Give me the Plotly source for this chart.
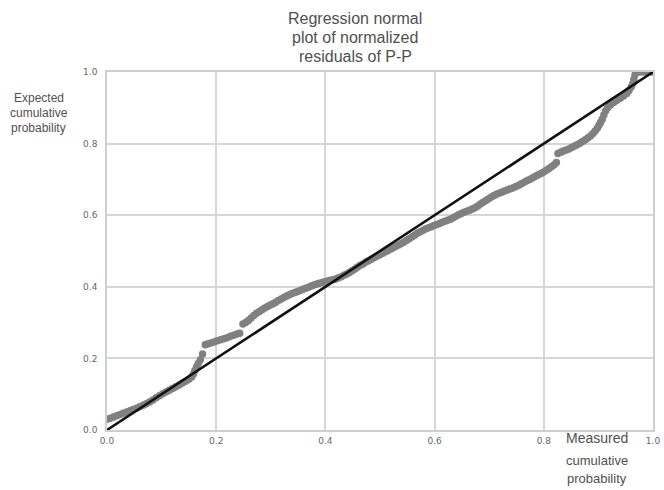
import plotly.graph_objects as go

measured = [
    0.000, 0.006, 0.012, 0.018, 0.024, 0.030, 0.036, 0.042, 0.048, 0.054,
    0.060, 0.066, 0.072, 0.078, 0.084, 0.090, 0.096, 0.102, 0.108, 0.114,
    0.120, 0.126, 0.132, 0.138, 0.144, 0.150, 0.155,
    0.158, 0.161, 0.164, 0.167, 0.171, 0.175, 0.180,
    0.184, 0.190, 0.196, 0.202, 0.208, 0.214, 0.220, 0.226, 0.232, 0.238, 0.243,
    0.249, 0.254, 0.259, 0.264, 0.269, 0.274, 0.279, 0.284, 0.289, 0.294,
    0.299, 0.304, 0.309, 0.314, 0.319, 0.324, 0.329, 0.334, 0.339, 0.344,
    0.349, 0.354, 0.359, 0.364, 0.369, 0.374, 0.379, 0.384, 0.389, 0.394,
    0.399, 0.404, 0.409, 0.414, 0.419, 0.424, 0.429,
    0.434, 0.439, 0.444, 0.449, 0.454, 0.459, 0.464, 0.469, 0.474, 0.479,
    0.484, 0.489, 0.494, 0.499, 0.504, 0.509, 0.514, 0.519, 0.524, 0.529,
    0.534, 0.539, 0.544, 0.549, 0.554, 0.559, 0.564, 0.569, 0.574, 0.579,
    0.584, 0.589, 0.594, 0.599, 0.604, 0.609, 0.614, 0.619, 0.624, 0.629,
    0.634, 0.639, 0.644, 0.649, 0.654, 0.659, 0.664, 0.669, 0.674, 0.679,
    0.684, 0.689, 0.694, 0.699, 0.704, 0.709, 0.714, 0.719, 0.724, 0.729,
    0.734, 0.739, 0.744, 0.749, 0.754, 0.759, 0.764, 0.769, 0.774, 0.779,
    0.784, 0.789, 0.794, 0.799, 0.804, 0.809, 0.814, 0.819, 0.823,
    0.826, 0.831, 0.836, 0.841, 0.846, 0.851, 0.856, 0.861, 0.866, 0.871,
    0.876, 0.881, 0.886, 0.890, 0.894, 0.898, 0.901, 0.904, 0.907, 0.910,
    0.913, 0.917, 0.922, 0.928, 0.934, 0.940, 0.946, 0.952, 0.956, 0.960,
    0.963, 0.965, 0.967, 0.970, 0.976, 0.982, 0.988, 0.994, 1.000,
]
expected = [
    0.030, 0.033, 0.036, 0.040, 0.043, 0.047, 0.050, 0.054, 0.057, 0.061,
    0.065, 0.069, 0.073, 0.078, 0.084, 0.090, 0.096, 0.101, 0.106, 0.111,
    0.116, 0.121, 0.126, 0.131, 0.136, 0.142, 0.148,
    0.156, 0.166, 0.176, 0.186, 0.196, 0.212, 0.238,
    0.240, 0.243, 0.246, 0.249, 0.252, 0.255, 0.258, 0.262, 0.265, 0.268, 0.270,
    0.296, 0.300, 0.306, 0.313, 0.320, 0.326, 0.331, 0.336, 0.341, 0.345,
    0.349, 0.353, 0.357, 0.362, 0.366, 0.370, 0.374, 0.378, 0.381, 0.384,
    0.387, 0.390, 0.393, 0.396, 0.399, 0.402, 0.405, 0.408, 0.410, 0.412,
    0.414, 0.416, 0.418, 0.420, 0.422, 0.425, 0.428,
    0.432, 0.436, 0.440, 0.445, 0.450, 0.455, 0.460, 0.464, 0.469, 0.473,
    0.477, 0.481, 0.485, 0.489, 0.493, 0.497, 0.501, 0.505, 0.509, 0.513,
    0.517, 0.521, 0.525, 0.530, 0.535, 0.540, 0.545, 0.550, 0.554, 0.558,
    0.562, 0.565, 0.568, 0.571, 0.574, 0.577, 0.580, 0.583, 0.586, 0.589,
    0.593, 0.597, 0.601, 0.605, 0.608, 0.611, 0.614, 0.617, 0.621, 0.626,
    0.631, 0.636, 0.641, 0.646, 0.651, 0.655, 0.659, 0.662, 0.665, 0.668,
    0.671, 0.674, 0.677, 0.680, 0.684, 0.688, 0.692, 0.696, 0.700, 0.704,
    0.708, 0.712, 0.716, 0.720, 0.725, 0.730, 0.735, 0.741, 0.747,
    0.772, 0.776, 0.779, 0.782, 0.785, 0.789, 0.793, 0.797, 0.801, 0.806,
    0.811, 0.816, 0.822, 0.828, 0.835, 0.843, 0.851, 0.859, 0.868, 0.880,
    0.891, 0.900, 0.908, 0.915, 0.921, 0.927, 0.933, 0.940, 0.948, 0.958,
    0.968, 0.980, 0.992, 1.000, 1.000, 1.000, 1.000, 1.000, 1.000,
]

ref_line = [0.0, 1.0]
tick_vals = [0.0, 0.2, 0.4, 0.6, 0.8, 1.0]
tick_text = ["0.0", "0.2", "0.4", "0.6", "0.8", "1.0"]
title_lines = ["Regression normal", "plot of normalized", "residuals of P-P"]
y_title_lines = ["Expected", "cumulative", "probability"]
x_title_lines = ["Measured", "cumulative", "probability"]

FONT = "Liberation Sans, Arial, sans-serif"
TICKFONT = "DejaVu Sans, Verdana, sans-serif"
TXT = "#505050"

fig = go.Figure()
fig.add_trace(go.Scatter(x=measured, y=expected, mode="markers",
                         marker=dict(color="#808080", size=7.5, line=dict(width=0)),
                         showlegend=False, hoverinfo="skip"))
fig.add_trace(go.Scatter(x=ref_line, y=ref_line, mode="lines",
                         line=dict(color="#111111", width=2.6),
                         showlegend=False, hoverinfo="skip"))

axis_common = dict(range=[0, 1], tickvals=tick_vals, ticktext=tick_text,
                   showgrid=True, gridcolor="#d6d6d6", gridwidth=1.5,
                   zeroline=False, showline=True, linecolor="#cfcfcf", linewidth=1.5,
                   mirror=True, ticks="",
                   tickfont=dict(family=TICKFONT, size=9, color="#666666"),
                   fixedrange=True)
fig.update_xaxes(**axis_common, ticklabelstandoff=1)
fig.update_yaxes(**axis_common, ticklabelstandoff=6)

annotations = []
for i, t in enumerate(title_lines):
    annotations.append(dict(text=t, xref="paper", yref="paper", x=0.455, y=1 + (54 - 19 * i) / 358,
                            xanchor="center", yanchor="middle", showarrow=False,
                            font=dict(family=FONT, size=16, color=TXT)))
for i, t in enumerate(y_title_lines):
    annotations.append(dict(text=t, xref="paper", yref="paper", x=-68 / 545, y=1 - (26 + 15 * i) / 358,
                            xanchor="center", yanchor="middle", showarrow=False,
                            font=dict(family=FONT, size=12, color=TXT)))
x_title_font = [14, 13, 13]
x_title_y = [8, 30, 48]
for i, t in enumerate(x_title_lines):
    annotations.append(dict(text=t, xref="paper", yref="paper", x=0.898, y=-x_title_y[i] / 358,
                            xanchor="center", yanchor="middle", showarrow=False,
                            font=dict(family=FONT, size=x_title_font[i], color=TXT)))

fig.update_layout(width=664, height=490, margin=dict(l=107, r=11, t=72, b=60, autoexpand=False),
                  paper_bgcolor="white", plot_bgcolor="white",
                  annotations=annotations, font=dict(family=FONT))

fig.write_html("out.html", config={"displayModeBar": False},
               post_script="document.body.style.margin='0';document.body.style.overflow='hidden';")
